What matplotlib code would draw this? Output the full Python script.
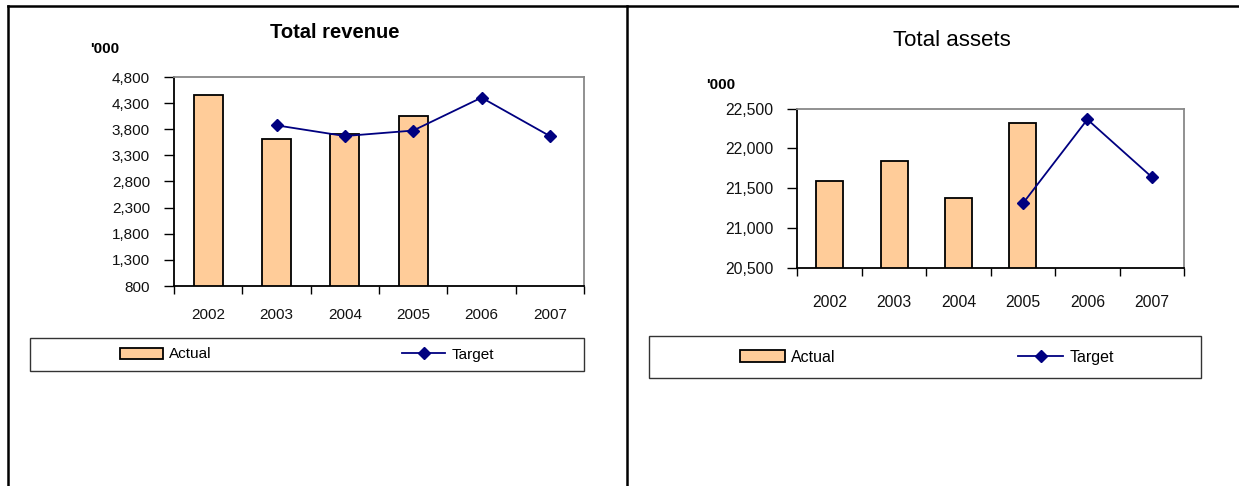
import numpy as np
import matplotlib
matplotlib.use("Agg")
import matplotlib.pyplot as plt
from matplotlib.patches import Rectangle
from matplotlib.lines import Line2D
from matplotlib.ticker import FuncFormatter

W, H = 1239, 486

years = ["2002", "2003", "2004", "2005", "2006", "2007"]

# Total revenue ('000)
rev_actual = [4450, 3620, 3715, 4060, np.nan, np.nan]
rev_target = [np.nan, 3875, 3670, 3775, 4405, 3670]
rev_ticks = [800, 1300, 1800, 2300, 2800, 3300, 3800, 4300, 4800]

# Total assets ('000)
ast_actual = [21595, 21840, 21380, 22320, np.nan, np.nan]
ast_target = [np.nan, np.nan, np.nan, 21310, 22365, 21640]
ast_ticks = [20500, 21000, 21500, 22000, 22500]

BAR = "#FFCC99"
NAVY = "#000080"
FONT = "Liberation Sans"


def fx(px):
    return px / W


def fy(py):
    return 1 - py / H


def add_ax(fig, x0, x1, ytop, ybot):
    return fig.add_axes([fx(x0), fy(ybot), fx(x1 - x0), (ybot - ytop) / H])


def draw_panel(ax, actual, target, ticks, fs, xpad, ypad):
    x = np.arange(len(years))
    bars = ax.bar(x, actual, width=0.42, color=BAR, edgecolor="black",
                  linewidth=1.3, zorder=2)
    line, = ax.plot(x, target, color=NAVY, lw=1.3, marker="D",
                    markersize=6.5, zorder=3)
    ax.set_xlim(-0.5, len(years) - 0.5)
    ax.set_ylim(ticks[0], ticks[-1])
    ax.set_yticks(ticks)
    ax.yaxis.set_major_formatter(FuncFormatter(lambda v, p: "{:,.0f}".format(v)))
    ax.set_xticks(x)
    ax.set_xticklabels(years)
    ax.set_xticks(np.arange(-0.5, len(years)), minor=True)
    ax.tick_params(axis="x", which="major", length=0, pad=xpad)
    ax.tick_params(axis="x", which="minor", length=6, width=1, direction="out")
    ax.tick_params(axis="y", length=7, width=1, direction="out", pad=ypad)
    for lab in ax.get_xticklabels() + ax.get_yticklabels():
        lab.set_fontfamily(FONT)
        lab.set_fontsize(fs)
        lab.set_color("#111111")
    for s in ["left", "bottom"]:
        ax.spines[s].set_color("black")
        ax.spines[s].set_linewidth(1.3)
    for s in ["top", "right"]:
        ax.spines[s].set_color("#888888")
        ax.spines[s].set_linewidth(1.3)
    return bars, line


def draw_legend(fig, bars, line, box, c1, c2, fs, hl, hh):
    x0, x1, ytop, ybot = box
    fig.patches.append(Rectangle((fx(x0), fy(ybot)), fx(x1 - x0), (ybot - ytop) / H,
                                 transform=fig.transFigure, fill=False,
                                 edgecolor="#333333", linewidth=1.0))
    yc = fy((ytop + ybot) / 2)
    for h, lab, cx in [(bars, "Actual", c1), (line, "Target", c2)]:
        fig.legend([h], [lab], loc="center", bbox_to_anchor=(fx(cx), yc),
                   frameon=False, handlelength=hl, handleheight=hh,
                   handletextpad=0.4, borderpad=0, borderaxespad=0,
                   prop={"family": FONT, "size": fs})


fig = plt.figure(figsize=(W / 100, H / 100), dpi=100)

# page frame lines
fig.add_artist(Line2D([fx(7.7), 1], [fy(6.5), fy(6.5)], color="black", lw=1.8))
fig.add_artist(Line2D([fx(7.7), fx(7.7)], [fy(6.5), 0], color="black", lw=1.8))
fig.add_artist(Line2D([fx(627), fx(627)], [fy(6.5), 0], color="black", lw=1.8))

# left panel
axl = add_ax(fig, 174, 584, 77, 286)
b1, l1 = draw_panel(axl, rev_actual, rev_target, rev_ticks, 11, 16, 10.3)
fig.text(fx(334.5), fy(33), "Total revenue", ha="center", va="center",
         family=FONT, fontsize=14.5, fontweight="bold")
fig.text(fx(105), fy(49), "'000", ha="center", va="center",
         family=FONT, fontsize=11, fontweight="bold")
draw_legend(fig, b1, l1, (30.4, 584, 338, 371), 166, 448, 11, 2.8, 0.7)

# right panel
axr = add_ax(fig, 797.5, 1184, 108.7, 267.7)
b2, l2 = draw_panel(axr, ast_actual, ast_target, ast_ticks, 11.3, 20, 10.4)
fig.text(fx(952), fy(40), "Total assets", ha="center", va="center",
         family=FONT, fontsize=16)
fig.text(fx(706), fy(85), "'000", ha="left", va="center",
         family=FONT, fontsize=11, fontweight="bold")
draw_legend(fig, b2, l2, (649, 1200.6, 336, 378), 788, 1066, 11.5, 2.8, 0.8)

fig.savefig("out.png", dpi=100)
